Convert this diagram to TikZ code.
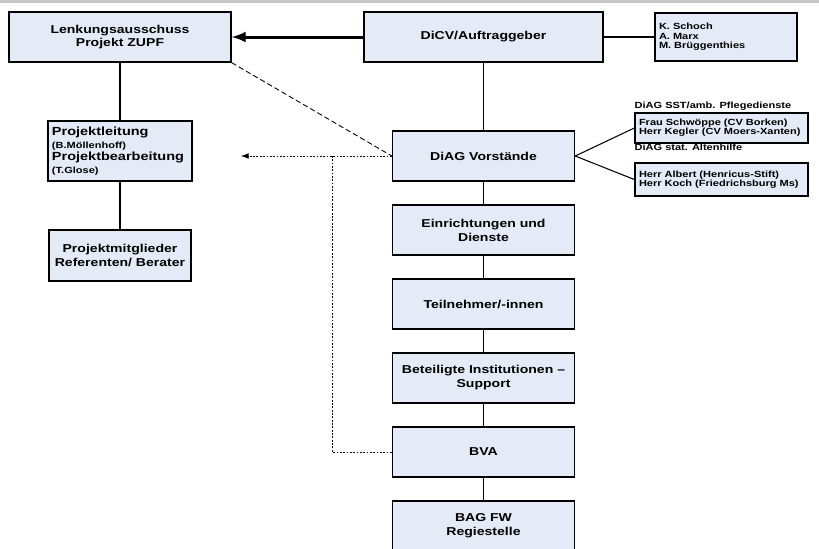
\documentclass[tikz,border=0pt]{standalone}
\usepackage{fontspec}
\setmainfont{Liberation Sans}[FakeStretch=1.23]
\usetikzlibrary{arrows}
\definecolor{boxfill}{RGB}{228,234,246}
\definecolor{bandgray}{RGB}{200,200,200}
\newcommand{\schrift}[2]{\fontsize{#1}{#2}\selectfont\bfseries}
\newcommand{\hauptschrift}{\schrift{6.7}{7}}
\newcommand{\kleinschrift}{\schrift{5.1}{5.3}}
\tikzstyle{stelle} = [rectangle, minimum width=3.64cm, minimum height=1cm, text centered, draw=black, line width=0.8pt, fill=boxfill, align=center, font=\schrift{6.5}{8}]
\tikzstyle{liste} = [rectangle, draw=black, line width=0.8pt, fill=boxfill, align=left, inner xsep=0.08cm, font=\kleinschrift]
\tikzstyle{titel} = [font=\kleinschrift, inner sep=0pt, anchor=south west]
\tikzstyle{linie} = [line width=0.6pt]
\tikzstyle{dicklinie} = [line width=1.7pt]
\tikzstyle{arrow} = [line width=1.7pt, ->, >=latex]
\tikzstyle{strich} = [line width=0.5pt, dash pattern=on 3pt off 1.7pt]
\tikzstyle{verweis} = [line width=0.5pt, dash pattern=on 1pt off 0.9pt]

\begin{document}
\begin{tikzpicture}[node distance=1.48cm]
\useasboundingbox (0,0) rectangle (16.38,-10.96);
\fill [bandgray] (0,0) rectangle (16.38,-0.06);

\node (lenkung) [stelle, minimum width=4.44cm, font=\schrift{6.5}{7.2}] at (2.40,-0.74) {Lenkungsausschuss\\Projekt ZUPF};
\node (dicv) [stelle, minimum width=4.78cm] at (9.67,-0.74) {DiCV/Auftraggeber};
\node (namen) [liste, text width=2.68cm, minimum height=0.96cm] at (14.52,-0.74) {K. Schoch\\A. Marx\\M. Brüggenthies};
\node (leitung) [liste, text width=2.72cm, minimum height=1.2cm, font=\schrift{5.1}{7.2}] at (2.40,-3.02) {{\hauptschrift Projektleitung}\\(B.Möllenhoff)\\{\hauptschrift Projektbearbeitung}\\(T.Glose)};
\node (mitglieder) [stelle, minimum width=2.84cm, minimum height=1.02cm, font=\schrift{6.5}{8.4}] at (2.40,-5.11) {Projektmitglieder\\Referenten/ Berater};

\node (vorstand) [stelle] at (9.67,-3.12) {DiAG Vorstände};
\node (einricht) [stelle, below of=vorstand] {Einrichtungen und\\Dienste};
\node (teilnehmer) [stelle, below of=einricht] {Teilnehmer/-innen};
\node (institution) [stelle, below of=teilnehmer] {Beteiligte Institutionen --\\Support};
\node (bva) [stelle, below of=institution] {BVA};
\node (bag) [stelle, below of=bva] {BAG FW\\Regiestelle};

\node (sst) [liste, text width=3.30cm, minimum height=0.6cm] at (14.43,-2.56) {Frau Schwöppe (CV Borken)\\Herr Kegler (CV Moers-Xanten)};
\node (alt) [liste, text width=3.30cm, minimum height=0.66cm] at (14.43,-3.59) {Herr Albert (Henricus-Stift)\\Herr Koch (Friedrichsburg Ms)};
\node (ssttitel) [titel] at ([yshift=0.04cm]sst.north west) {DiAG SST/amb. Pflegedienste};
\node (alttitel) [titel] at ([yshift=0.22cm]alt.north west) {DiAG stat. Altenhilfe};

\coordinate (pfeilende) at (4.82,-3.12);
\coordinate (knick) at (6.64,-3.12);

\draw [arrow] (dicv) -- (lenkung);
\draw [linie] (dicv) -- (namen);
\draw [dicklinie] (lenkung) -- (leitung);
\draw [dicklinie] (leitung) -- (mitglieder);
\draw [linie] (dicv) -- (vorstand);
\draw [linie] (vorstand) -- (einricht);
\draw [linie] (einricht) -- (teilnehmer);
\draw [linie] (teilnehmer) -- (institution);
\draw [linie] (institution) -- (bva);
\draw [linie] (bva) -- (bag);
\draw [linie] (vorstand.east) -- (sst.west);
\draw [linie] (vorstand.east) -- (alt.west);
\draw [strich] (lenkung.south east) -- (vorstand.west);
\draw [verweis, ->, >=latex] (vorstand) -- (pfeilende);
\draw [verweis] (knick) |- (bva);

\end{tikzpicture}
\end{document}
